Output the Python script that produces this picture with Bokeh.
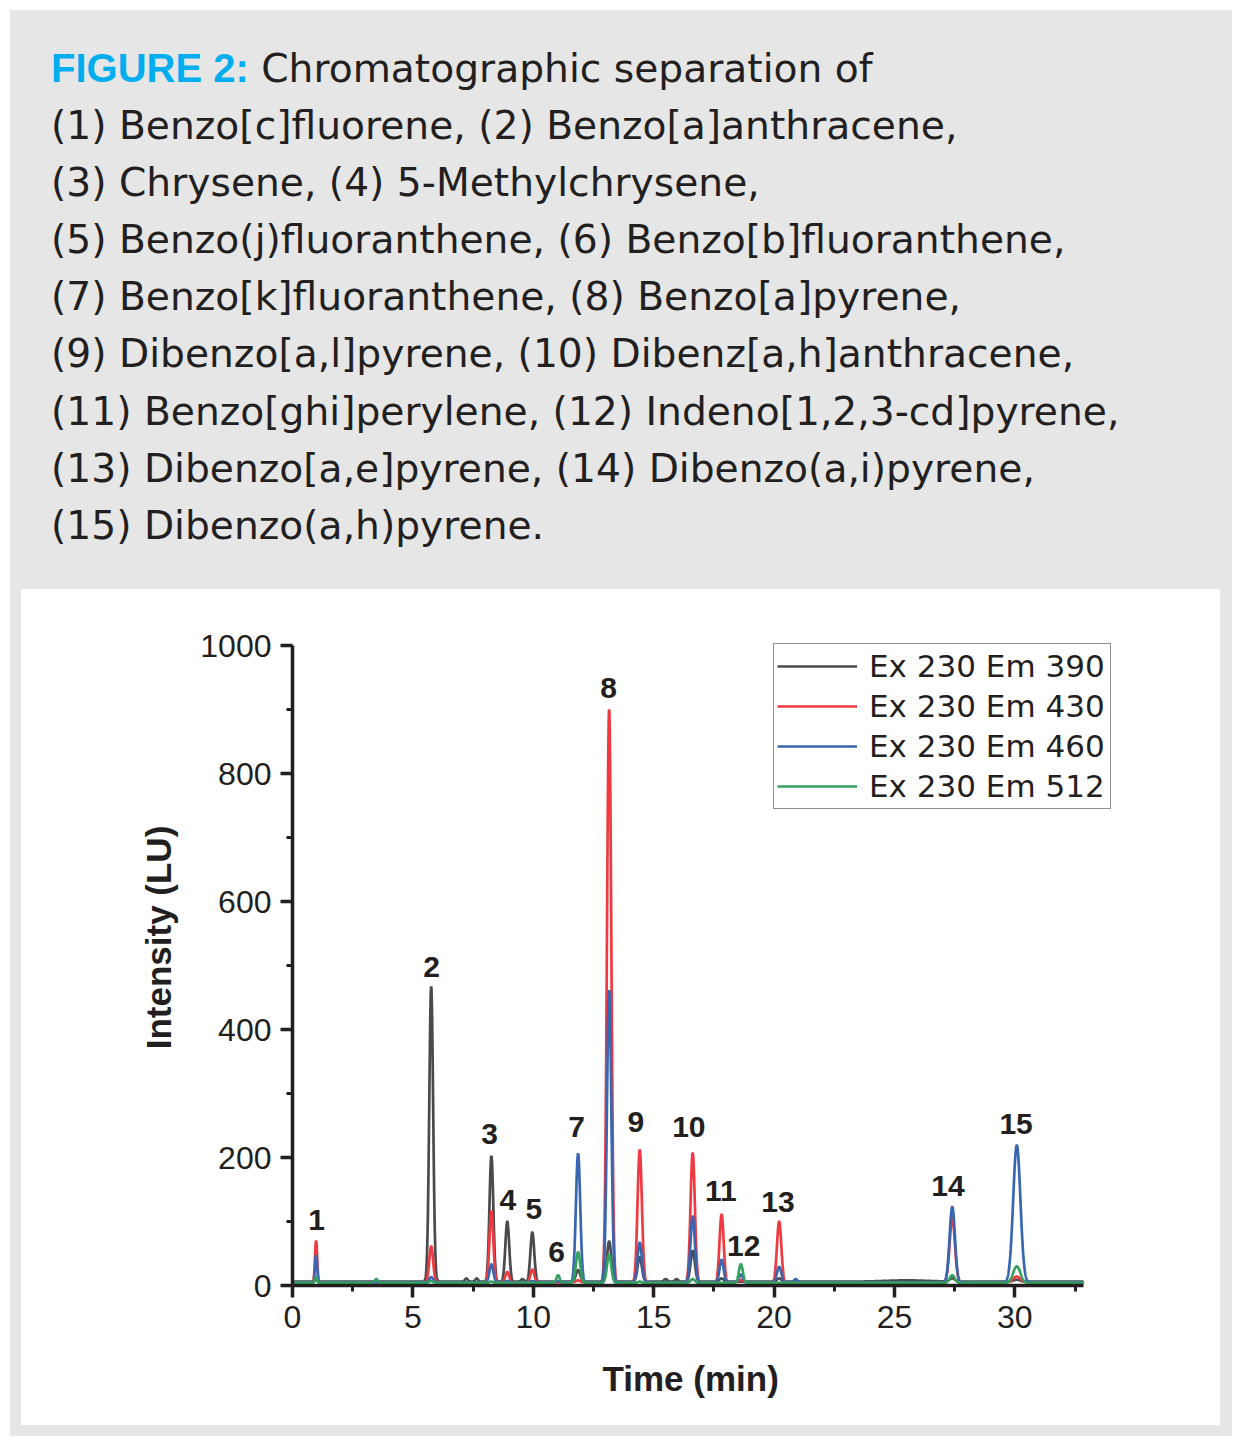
import numpy as np
from bokeh.plotting import figure
from bokeh.layouts import column
from bokeh.models import Range1d, SingleIntervalTicker, Legend, LegendItem, Div, Title
from bokeh.core.properties import value
from bokeh.embed import file_html
from bokeh.resources import INLINE

# ---------------- data ----------------
# retention times of the peaks (min)
peak_times = [0.98, 3.48, 5.76, 7.22, 7.65, 8.26, 8.92, 9.55, 9.96, 11.03, 11.86,
              13.15, 14.42, 15.50, 15.95, 16.62, 17.82, 18.62, 20.21, 20.90,
              25.50, 27.40, 30.08]
# peak widths (sigma, min)
peak_widths = [0.045, 0.06, 0.08, 0.06, 0.06, 0.08, 0.08, 0.06, 0.08, 0.07, 0.09,
               0.09, 0.09, 0.07, 0.07, 0.09, 0.085, 0.085, 0.09, 0.07,
               0.9, 0.11, 0.15]
# peak heights above baseline (LU) per detection channel
em390 = [3, 0, 461, 5, 5, 196, 94, 4, 77, 0, 18, 63, 38, 4, 4, 48, 5, 0, 5, 0, 2, 5, 3]
em430 = [65, 0, 56, 0, 0, 111, 16, 0, 20, 0, 3, 895, 207, 0, 0, 202, 106, 4, 95, 0, 0, 100, 9]
em460 = [42, 0, 8, 0, 0, 28, 2, 0, 2, 2, 201, 456, 62, 0, 0, 103, 35, 12, 24, 5, 0, 118, 214]
em512 = [9, 6, 3, 0, 0, 2, 0, 0, 0, 12, 48, 44, 2, 0, 0, 6, 0, 29, 0, 0, 0, 12, 26]
baselines = [6, 5, 5, 4]

series_names = ["Ex 230 Em 390", "Ex 230 Em 430", "Ex 230 Em 460", "Ex 230 Em 512"]
series_colors = ["#4a4a4c", "#ee3a40", "#3866b0", "#34a35e"]

# peak number labels (position in min / LU)
peak_labels = ["1", "2", "3", "4", "5", "6", "7", "8", "9", "10", "11", "12", "13", "14", "15"]
label_time = [1.0, 5.78, 8.19, 8.94, 10.02, 10.97, 11.8, 13.13, 14.26, 16.46, 17.79, 18.74, 20.16, 27.22, 30.05]
label_level = [103, 498, 237, 134, 119, 52, 248, 934, 255, 248, 147, 61, 130, 155, 253]

x_max = 32.85
y_max = 1000
x_ticks_interval = 5
y_ticks_interval = 200

title_head = "FIGURE 2:"
title_lines = [
    "Chromatographic separation of",
    "(1) Benzo[c]fluorene, (2) Benzo[a]anthracene,",
    "(3) Chrysene, (4) 5-Methylchrysene,",
    "(5) Benzo(j)fluoranthene, (6) Benzo[b]fluoranthene,",
    "(7) Benzo[k]fluoranthene, (8) Benzo[a]pyrene,",
    "(9) Dibenzo[a,l]pyrene, (10) Dibenz[a,h]anthracene,",
    "(11) Benzo[ghi]perylene, (12) Indeno[1,2,3-cd]pyrene,",
    "(13) Dibenzo[a,e]pyrene, (14) Dibenzo(a,i)pyrene,",
    "(15) Dibenzo(a,h)pyrene.",
]

TXT = "#231f20"
GRAY = "#e6e6e6"

# ---------------- caption (gray panel) ----------------
head_html = ('<span style="font-family:\'Liberation Sans\';font-weight:bold;'
             'font-size:40px;color:#00aeef;">' + title_head + '</span> ')
caption_html = (
    '<div style="font-family:\'DejaVu Sans\';font-size:39.2px;line-height:57.1px;'
    'color:' + TXT + ';white-space:nowrap;padding:30px 0 0 41px;margin:0;">'
    + head_html + title_lines[0] + '<br>' + '<br>'.join(title_lines[1:]) + '</div>'
)
caption = Div(text=caption_html, width=1222, height=579, margin=0,
              styles={"background-color": GRAY})

# ---------------- chart (white panel) ----------------
PW, PH = 1199, 836          # page origin at (21, 589)
FL, FR, FT, FB = 271, 1099, 0, 696     # frame edges inside the chart figure
px_per_min = (1083 - 292) / x_max
px_per_lu = (1285 - 645) / y_max

p = figure(width=PW, height=PH, output_backend="svg", toolbar_location=None,
           x_range=Range1d(0, (FR - FL) / px_per_min),
           y_range=Range1d(0, (FB - FT) / px_per_lu),
           min_border_left=FL, min_border_right=PW - FR,
           min_border_top=FT, min_border_bottom=PH - FB,
           background_fill_color="white", border_fill_color="white",
           margin=(0, 12, 11, 11), styles={"background-color": "white"})
p.outline_line_color = None
p.grid.visible = False

# traces
t = np.arange(0, x_max + 1e-9, 0.005)
renderers = []
for heights, base, name, color in zip([em390, em430, em460, em512], baselines,
                                      series_names, series_colors):
    y = np.full_like(t, float(base))
    for t0, s, h in zip(peak_times, peak_widths, heights):
        if h:
            y += h * np.exp(-0.5 * ((t - t0) / s) ** 2)
    r = p.line(t, y, line_color=color, line_width=2.7)
    renderers.append(r)

# peak numbers
p.text(x=label_time, y=label_level, text=peak_labels,
       text_font=value("Liberation Sans"), text_font_style="bold",
       text_font_size=value("30px"), text_color=TXT,
       text_align="center", text_baseline="middle")

# axes
for ax in (p.xaxis[0], p.yaxis[0]):
    ax.axis_line_color = TXT
    ax.axis_line_width = 3.5
    ax.major_tick_line_color = TXT
    ax.major_tick_line_width = 3.5
    ax.minor_tick_line_color = TXT
    ax.minor_tick_line_width = 3
    ax.major_tick_out = 12
    ax.major_tick_in = 0
    ax.minor_tick_out = 6
    ax.minor_tick_in = 0
    ax.major_label_text_font = "Liberation Sans"
    ax.major_label_text_font_size = "32px"
    ax.major_label_text_color = TXT
    ax.axis_label_text_font = "Liberation Sans"
    ax.axis_label_text_font_style = "bold"
    ax.axis_label_text_font_size = "35px"
    ax.axis_label_text_color = TXT

p.xaxis[0].ticker = SingleIntervalTicker(interval=x_ticks_interval, num_minor_ticks=2)
p.yaxis[0].ticker = SingleIntervalTicker(interval=y_ticks_interval, num_minor_ticks=2)
p.xaxis[0].bounds = (0, x_max)
p.yaxis[0].bounds = (0, y_max)
p.yaxis[0].axis_label = "Intensity (LU)"
p.xaxis[0].major_label_standoff = 8
p.yaxis[0].major_label_standoff = 9
p.yaxis[0].axis_label_standoff = 19

# x-axis title, centred under the time axis
p.add_layout(Title(text="Time (min)", align="left", offset=310,
                   text_font="Liberation Sans", text_font_style="bold",
                   text_font_size="35px", text_color=TXT, standoff=52), "below")

# legend (location relative to the frame's bottom-left corner)
items = [LegendItem(label=n, renderers=[r]) for n, r in zip(series_names, renderers)]
legend = Legend(items=items, location=(773 - 292, 1285 - 809),
                glyph_width=80, glyph_height=38, label_height=38, label_width=238,
                label_standoff=12, padding=3, spacing=2, margin=0,
                border_line_color=TXT, border_line_width=1.5,
                background_fill_color="white", background_fill_alpha=1,
                label_text_font="DejaVu Sans", label_text_font_size="31px",
                label_text_color=TXT)
p.add_layout(legend)

page = column(caption, p, margin=(10, 0, 0, 10), styles={"background-color": GRAY})

open("out.html", "w").write(file_html(page, INLINE))
